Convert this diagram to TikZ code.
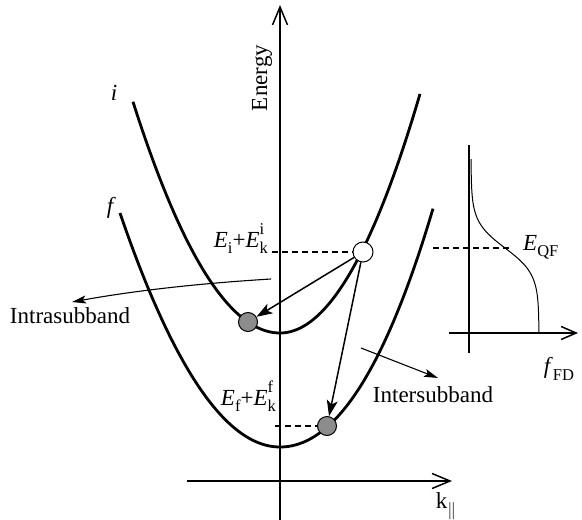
\documentclass[tikz,border=0pt]{standalone}
\usepackage{fontspec}
\setmainfont{Liberation Serif}
\usetikzlibrary{arrows.meta}
\definecolor{dotgray}{RGB}{140,140,140}
\newcommand{\lsub}[1]{\raisebox{-0.3em}{\fontsize{16.5}{16.5}\selectfont #1}}
\newcommand{\lsubsup}[2]{\rlap{\raisebox{0.55em}{\fontsize{16.5}{16.5}\selectfont #2}}\raisebox{-0.3em}{\fontsize{16.5}{16.5}\selectfont #1}}
\begin{document}
\begin{tikzpicture}[x=1pt,y=-1pt,
  lab/.style={font=\fontsize{23}{27}\selectfont, inner sep=0pt},
  axisline/.style={line width=1.5pt, -{Straight Barb[length=18pt,width=15pt,line width=1.5pt]}},
  fdaxis/.style={line width=1.5pt, -{Straight Barb[length=15pt,width=13pt,line width=1.5pt]}},
  band/.style={line width=2.8pt},
  fdline/.style={line width=1pt},
  dashline/.style={line width=1.4pt, dash pattern=on 6pt off 4pt},
  trans/.style={line width=1.5pt, -{Stealth[length=16pt,width=11pt,inset=4pt]}},
  thinarr/.style={line width=1.1pt, -{Stealth[length=14pt,width=8pt,inset=3pt]}},
  wdot/.style={circle, draw, line width=1pt, fill=white, minimum size=20pt, inner sep=0pt},
  gdot/.style={circle, draw, line width=1pt, fill=dotgray, minimum size=19pt, inner sep=0pt}
]
\useasboundingbox (0,0) rectangle (582,520);

% main axes
\coordinate (eb) at (280,520);
\coordinate (et) at (280,5);
\coordinate (kb) at (187,481);
\coordinate (kt) at (452,481);
\draw[axisline] (eb) -- (et);
\draw[axisline] (kb) -- (kt);
\node[lab, rotate=90] (energy) at (262,78) {Energy};
\node[lab] (klab) at (446,506) {k\lsub{$\parallel$}};

% subbands
\draw[band] plot[domain=-14.7:14, samples=120] ({280+10*\x},{333-ifthenelse(\x<0,1.07,1.22)*\x*\x});
\draw[band] plot[domain=-16:15.3, samples=120] ({280+10*\x},{447-ifthenelse(\x<0,0.914*\x*\x,0.85*\x*\x+0.011*\x*\x*\x)});
\node[lab, font=\fontsize{23}{27}\selectfont\itshape] (ilab) at (114,93) {i};
\node[lab, font=\fontsize{23}{27}\selectfont\itshape] (flab) at (110,208) {f};

% states
\node[wdot] (ui) at (363,252) {};
\node[gdot] (gi) at (248,322) {};
\node[gdot] (gf) at (327,426) {};

% dashed levels
\coordinate (d1) at (272,252);
\coordinate (d2) at (433,248);
\coordinate (d3) at (512,248);
\coordinate (d4) at (275,426);
\draw[dashline] (d1) -- (ui.west);
\draw[dashline] (d2) -- (d3);
\draw[dashline] (d4) -- (gf.west);

\node[lab, anchor=base east] (eilab) at (268,247) {\textit{E}\lsub{i}+\textit{E}\lsubsup{k}{i}};
\node[lab, anchor=base east] (eflab) at (276,405) {\textit{E}\lsub{f}+\textit{E}\lsubsup{k}{f}};

% transitions
\draw[trans] (ui) -- (gi);
\draw[trans] (ui) -- (gf);

% labelled arrows
\coordinate (ia0) at (271,279);
\coordinate (ia1) at (72,302);
\draw[thinarr] (ia0) .. controls (205,283) and (138,290) .. (ia1);
\node[lab] (intra) at (70,316) {Intrasubband};
\coordinate (xa0) at (361,348);
\coordinate (xa1) at (438,378);
\draw[thinarr] (xa0) -- (xa1);
\node[lab] (inter) at (433,395) {Intersubband};

% Fermi-Dirac inset
\coordinate (fb) at (469,353);
\coordinate (ft) at (469,145);
\coordinate (gb) at (449,333);
\coordinate (gt) at (578,333);
\draw[line width=1.5pt] (fb) -- (ft);
\draw[fdaxis] (gb) -- (gt);
\draw[fdline] plot[domain=159:333, samples=80] ({471+68/(1+exp((248-\x)/13))},{\x});
\node[lab, anchor=base west] (eqf) at (523,250) {\textit{E}\lsub{QF}};
\node[lab] (ffd) at (559,369) {\textit{f}\lsub{FD}};
\end{tikzpicture}
\end{document}
